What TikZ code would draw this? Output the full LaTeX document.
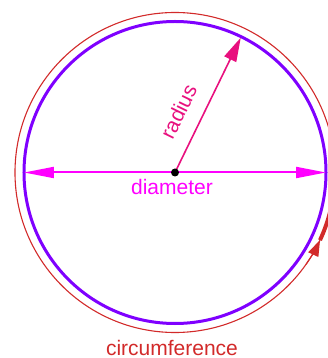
\documentclass[tikz,border=0pt]{standalone}
\usepackage{fontspec}
\setmainfont{Liberation Sans}
\usetikzlibrary{positioning,arrows.meta,calc}
\definecolor{violet}{HTML}{7F00FF}
\definecolor{fuchsia}{HTML}{FF00FF}
\definecolor{rosepink}{HTML}{E8107E}
\definecolor{brickred}{HTML}{D22A2A}

\begin{document}
\begin{tikzpicture}[x=1pt,y=1pt,
    label text/.style={font=\fontsize{21}{24}\selectfont, inner sep=0pt}]
        \useasboundingbox (-175,-185.5) rectangle (153,172.5);
        % Centre and points on the circle
        \coordinate (O) at (0,0);
        \coordinate (L) at (180:151);
        \coordinate (R) at (0:151);
        \coordinate (T) at (64:150);
        % Circumference (outer, thin)
        \draw[brickred, line width=1.1pt] (O) circle (160);
        % Circle
        \draw[violet, line width=3pt] (O) circle (151);
        % Diameter
        \draw[fuchsia, line width=2pt,
          {Triangle[length=30pt,width=11pt]}-{Triangle[length=30pt,width=11pt]}] (L) -- (R);
        % Radius
        \draw[rosepink, line width=1.6pt,
          -{Triangle[length=24pt,width=13pt]}] (O) -- (T);
        % Arrow on the circumference
        \coordinate (A1) at (-35:160);
        \coordinate (A2) at (-25:160);
        \draw[brickred, line width=1.1pt,
          -{Triangle[length=16pt,width=11pt]}] (A1) arc (-35:-25:160);
        \draw[brickred, line width=4pt] (A2) arc (-25:0:160);
        % Centre dot
        \node[circle, fill=black, inner sep=0pt, minimum size=8pt] (ctr) at (O) {};
        % Labels
        \node[label text, text=fuchsia] (dia) at (-3,-14.5) {diameter};
        \node[label text, text=rosepink, rotate=64] (rad) at (3.5,61) {radius};
        \node[label text, text=brickred] (circ) at (-3,-175) {circumference};
      \end{tikzpicture}
\end{document}
